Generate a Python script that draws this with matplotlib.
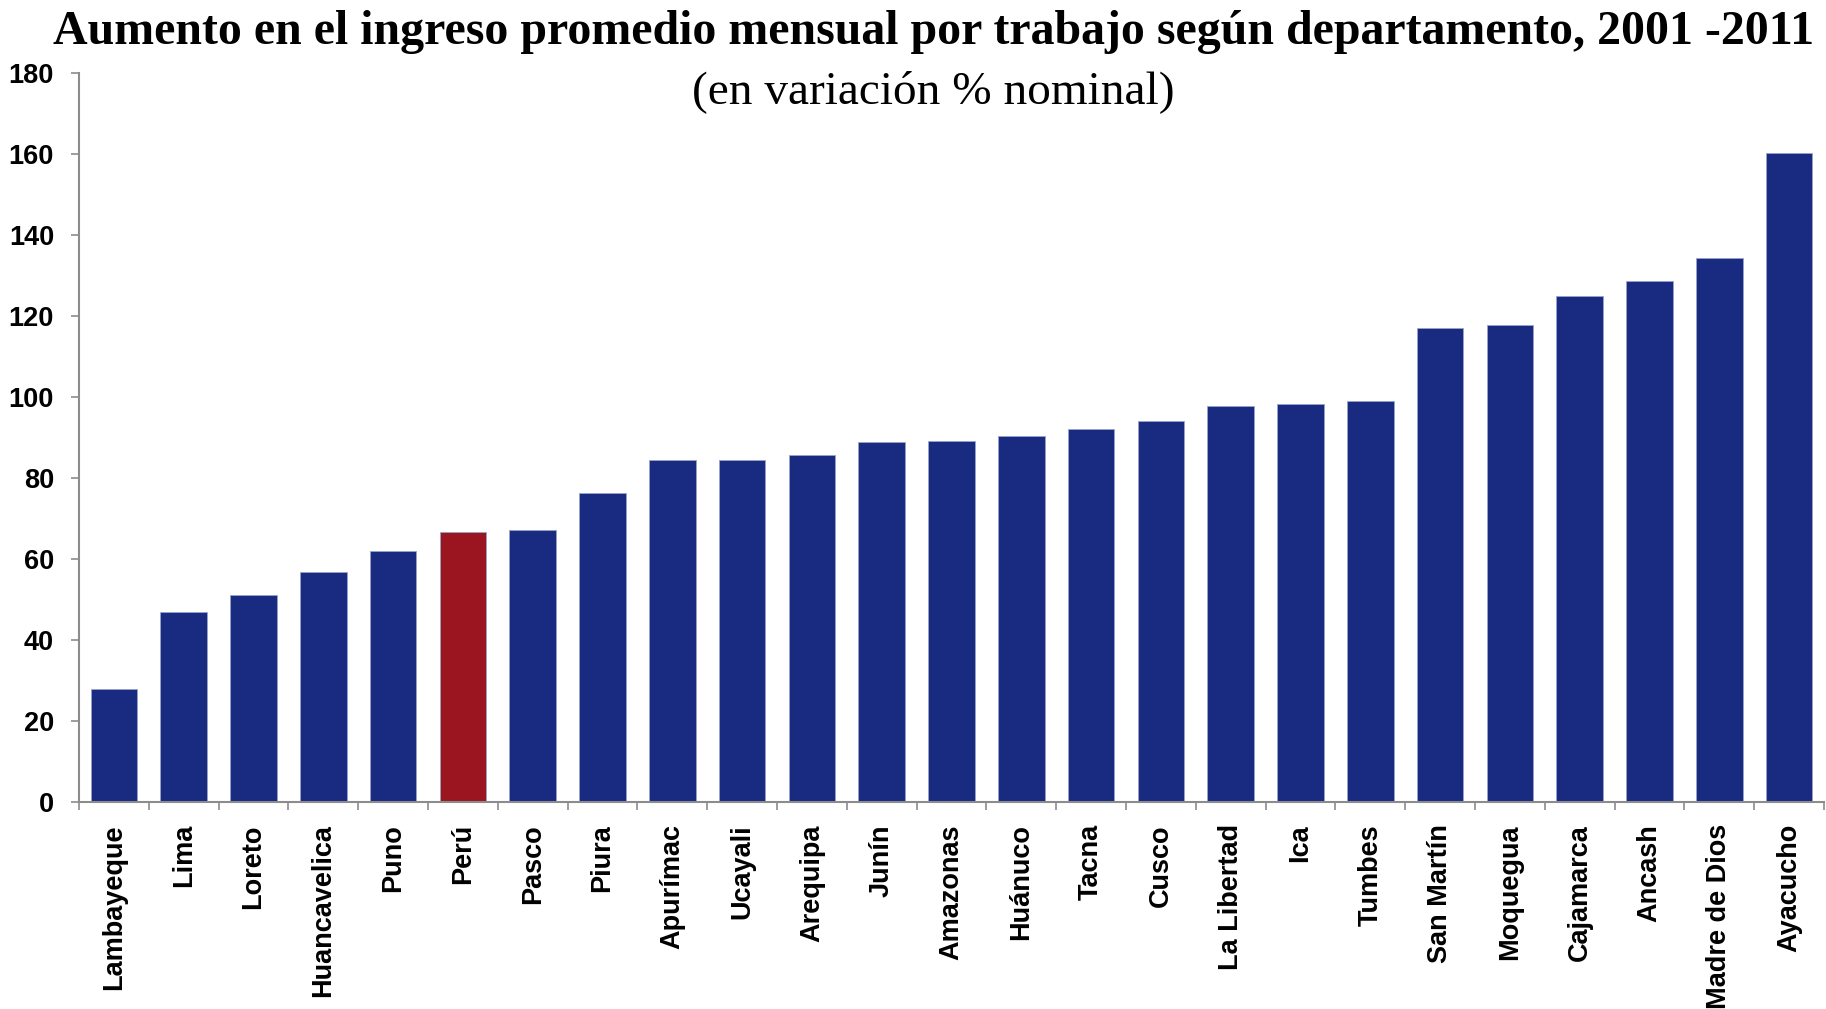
import numpy as np
import matplotlib.pyplot as plt
import matplotlib as mpl

# === Setup ===
mpl.rcParams['axes.spines.right'] = False
mpl.rcParams['axes.spines.top'] = False

# === Data ===
departments = [
    "Lambayeque", "Lima", "Loreto", "Huancavelica", "Puno", "Perú", "Pasco",
    "Piura", "Apurímac", "Ucayali", "Arequipa", "Junín", "Amazonas", "Huánuco",
    "Tacna", "Cusco", "La Libertad", "Ica", "Tumbes", "San Martín", "Moquegua",
    "Cajamarca", "Ancash", "Madre de Dios", "Ayacucho",
]
increase = [
    28.0, 46.9, 51.2, 56.8, 61.9, 66.8, 67.1,
    76.3, 84.4, 84.4, 85.8, 89.0, 89.1, 90.4,
    92.2, 94.2, 97.9, 98.3, 99.1, 117.1, 117.8,
    125.1, 128.7, 134.4, 160.3,
]
highlight = "Perú"

blue = '#192a81'
red = '#9a151f'
axis_gray = '#8c8c8c'

# === Plotting ===
fig = plt.figure(figsize=(18.26, 10.09), dpi=100)
ax = fig.add_axes([0.0433, 0.2052, 0.9556, 0.7222])

x = np.arange(len(departments))
colors = [red if d == highlight else blue for d in departments]
ax.bar(x, increase, width=0.667, color=colors, edgecolor='#9aa3cc', linewidth=0.6)

ax.set_xlim(-0.5, len(departments) - 0.5)
ax.set_ylim(0, 180)
ax.set_yticks(np.arange(0, 181, 20))

# ticks at category boundaries, labels centred under bars
ax.set_xticks(x)
ax.set_xticks(np.arange(-0.5, len(departments), 1), minor=True)
ax.set_xticklabels(departments, rotation=90, fontsize=19.5, fontweight='bold',
                   family='Liberation Sans')
ax.tick_params(axis='x', which='major', length=0, pad=16)
ax.tick_params(axis='x', which='minor', length=6, width=1.2, color=axis_gray,
               direction='out')
ax.tick_params(axis='y', length=6, width=1.2, color=axis_gray, direction='out', pad=12)
for lbl in ax.get_yticklabels():
    lbl.set_fontsize(19.5)
    lbl.set_fontweight('bold')
    lbl.set_family('Liberation Sans')

for side in ['left', 'bottom']:
    ax.spines[side].set_color(axis_gray)
    ax.spines[side].set_linewidth(1.5)

# Titles
fig.text(0.511, 0.968, "Aumento en el ingreso promedio mensual por trabajo según departamento, 2001 -2011",
         ha='center', va='center', fontsize=34.5, fontweight='bold', family='Liberation Serif')
fig.text(0.511, 0.909, "(en variación % nominal)",
         ha='center', va='center', fontsize=34, family='Liberation Serif')

# === Export ===
fig.savefig("out.png", dpi=100)
